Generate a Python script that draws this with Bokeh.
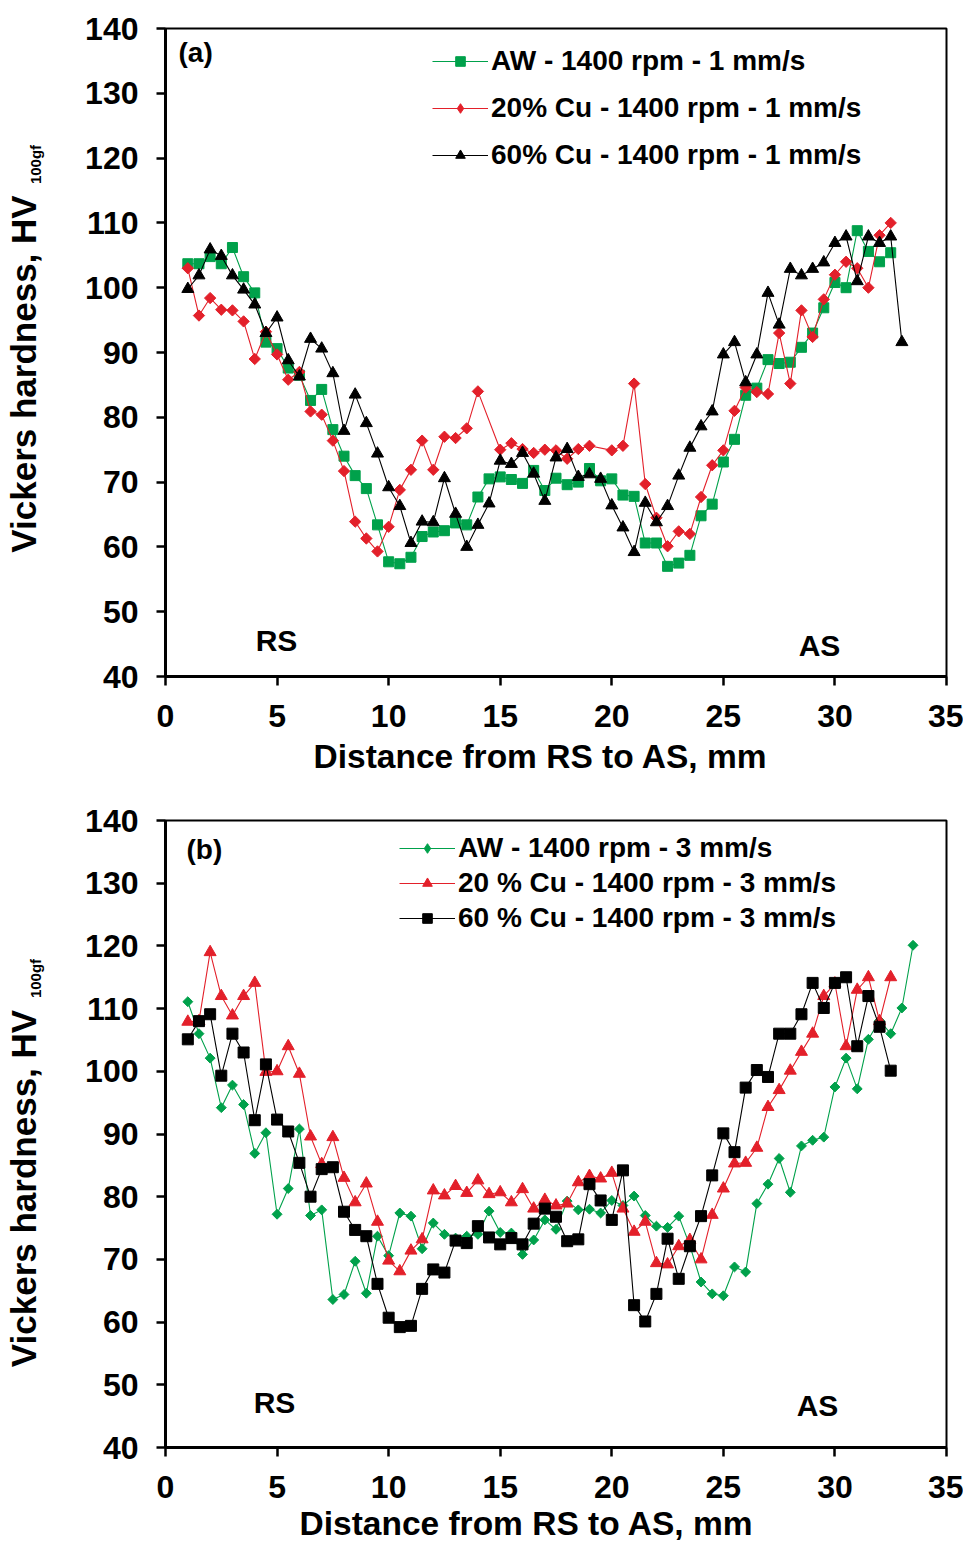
import math
from bokeh.plotting import figure
from bokeh.models import Range1d, Label, Legend, LegendItem, FixedTicker, Title
from bokeh.layouts import column, row
from bokeh.embed import file_html
from bokeh.resources import INLINE

FONT = "Liberation Sans"
GREEN = "#00A14B"
RED = "#E3202A"
BLACK = "#000000"

X_TICKS = [0, 5, 10, 15, 20, 25, 30, 35]
Y_TICKS = [40, 50, 60, 70, 80, 90, 100, 110, 120, 130, 140]
X_TITLE = "Distance from RS to AS, mm"
Y_TITLE = "Vickers hardness, HV"
Y_SUB = "100gf"

# ---------------- panel (a) ----------------
a_labels = ["AW - 1400 rpm - 1 mm/s", "20% Cu - 1400 rpm - 1 mm/s", "60% Cu - 1400 rpm - 1 mm/s"]

a_x_aw = [1, 1.5, 2, 2.5, 3, 3.5, 4, 4.5, 5, 5.5, 6, 6.5, 7, 7.5, 8, 8.5, 9, 9.5, 10, 10.5,
          11, 11.5, 12, 12.5, 13, 13.5, 14, 14.5, 15, 15.5, 16, 16.5, 17, 17.5, 18, 18.5, 19, 19.5, 20, 20.5,
          21, 21.5, 22, 22.5, 23, 23.5, 24, 24.5, 25, 25.5, 26, 26.5, 27, 27.5, 28, 28.5, 29, 29.5, 30, 30.5,
          31, 31.5, 32, 32.5]
a_y_aw = [103.7, 103.7, 104.8, 103.7, 106.2, 101.7, 99.2, 91.6, 90.6, 87.6,
          86.5, 82.6, 84.3, 78.1, 74.0, 71.0, 69.0, 63.4, 57.7, 57.4,
          58.4, 61.6, 62.3, 62.5, 63.7, 63.4, 67.7, 70.5, 70.8, 70.4,
          69.8, 71.8, 68.7, 70.6, 69.6, 70.0, 72.1, 70.2, 70.5, 68.0,
          67.8, 60.6, 60.6, 57.0, 57.5, 58.7, 64.8, 66.6, 73.1, 76.6,
          83.4, 84.5, 88.9, 88.3, 88.5, 90.8, 93.0, 96.9, 100.8, 100.0,
          108.8, 105.6, 104.0, 105.4]

a_x_cu20 = [1, 1.5, 2, 2.5, 3, 3.5, 4, 4.5, 5, 5.5, 6, 6.5, 7, 7.5, 8, 8.5, 9, 9.5, 10, 10.5,
            11, 11.5, 12, 12.5, 13, 13.5, 14, 15, 15.5, 16, 16.5, 17, 17.5, 18, 18.5, 19,
            20, 20.5, 21, 21.5, 22, 22.5, 23, 23.5, 24, 24.5, 25, 25.5, 26, 26.5, 27, 27.5,
            28, 28.5, 29, 29.5, 30, 30.5, 31, 31.5, 32, 32.5]
a_y_cu20 = [103.0, 95.7, 98.4, 96.6, 96.5, 94.8, 89.0, 93.2, 89.7, 85.8,
            87.0, 80.9, 80.4, 76.4, 71.7, 63.9, 61.3, 59.3, 63.1, 68.8,
            71.9, 76.4, 71.9, 77.0, 76.8, 78.3, 84.0,
            75.0, 76.0, 75.1, 74.5, 75.0, 74.9, 73.6, 75.1, 75.6,
            74.9, 75.6, 85.2, 69.7, 64.5, 60.1, 62.4, 62.0, 67.7, 72.6, 74.9, 81.0, 84.6, 83.9,
            83.6, 93.0, 85.2, 96.5, 92.4, 98.2, 102.0, 104.0, 103.0, 100.0, 108.1, 110.0]

a_x_cu60 = [1, 1.5, 2, 2.5, 3, 3.5, 4, 4.5, 5, 5.5, 6, 6.5, 7, 7.5, 8, 8.5, 9, 9.5, 10, 10.5,
            11, 11.5, 12, 12.5, 13, 13.5, 14, 14.5, 15, 15.5, 16, 16.5, 17, 17.5, 18, 18.5, 19, 19.5, 20, 20.5,
            21, 21.5, 22, 22.5, 23, 23.5, 24, 24.5, 25, 25.5, 26, 26.5, 27, 27.5, 28, 28.5, 29, 29.5, 30, 30.5,
            31, 31.5, 32, 32.5, 33]
a_y_cu60 = [99.8, 101.9, 105.9, 104.9, 101.9, 99.7, 97.4, 93.0, 95.4, 88.8,
            86.3, 92.1, 90.6, 86.8, 77.9, 83.5, 79.1, 74.4, 69.2, 66.3,
            60.6, 63.9, 63.8, 70.6, 65.1, 60.0, 63.4, 66.7, 73.3, 72.8,
            74.5, 71.3, 67.1, 73.8, 75.1, 70.8, 71.2, 70.5, 66.4, 63.0,
            59.2, 66.8, 63.8, 66.3, 71.0, 75.3, 78.6, 80.9, 89.7, 91.6,
            85.4, 89.7, 99.2, 94.3, 102.9, 101.9, 102.9, 103.9, 106.9, 107.9,
            101.0, 107.9, 106.9, 107.9, 91.6]

# ---------------- panel (b) ----------------
b_labels = ["AW - 1400 rpm - 3 mm/s", "20 % Cu - 1400 rpm - 3 mm/s", "60 % Cu - 1400 rpm - 3 mm/s"]

b_x_aw = [1, 1.5, 2, 2.5, 3, 3.5, 4, 4.5, 5, 5.5, 6, 6.5, 7, 7.5, 8, 8.5, 9, 9.5, 10, 10.5,
          11, 11.5, 12, 12.5, 13, 13.5, 14, 14.5, 15, 15.5, 16, 16.5, 17, 17.5, 18, 18.5, 19, 19.5, 20, 20.5,
          21, 21.5, 22, 22.5, 23, 23.5, 24, 24.5, 25, 25.5, 26, 26.5, 27, 27.5, 28, 28.5, 29, 29.5, 30, 30.5,
          31, 31.5, 32, 32.5, 33, 33.5]
b_y_aw = [111.1, 106.0, 102.1, 94.2, 97.8, 94.7, 86.9, 90.2, 77.2, 81.3,
          90.8, 77.0, 77.9, 63.6, 64.4, 69.7, 64.6, 73.7, 70.6, 77.4,
          76.9, 71.7, 75.8, 74.0, 73.4, 73.7, 74.0, 77.7, 74.3, 74.2,
          70.8, 73.1, 76.3, 74.8, 79.3, 77.9, 78.0, 77.4, 79.4, 78.6,
          80.1, 77.0, 75.3, 75.1, 76.9, 72.2, 66.4, 64.5, 64.2, 68.8,
          68.0, 78.9, 82.0, 86.1, 80.7, 88.1, 89.0, 89.5, 97.5, 102.1,
          97.2, 105.1, 108.1, 106.0, 110.1, 120.1]

b_x_cu20 = [1, 1.5, 2, 2.5, 3, 3.5, 4, 4.5, 5, 5.5, 6, 6.5, 7, 7.5, 8, 8.5, 9, 9.5, 10, 10.5,
            11, 11.5, 12, 12.5, 13, 13.5, 14, 14.5, 15, 15.5, 16, 16.5, 17, 17.5, 18, 18.5, 19, 19.5, 20, 20.5,
            21, 21.5, 22, 22.5, 23, 23.5, 24, 24.5, 25, 25.5, 26, 26.5, 27, 27.5, 28, 28.5, 29, 29.5, 30, 30.5,
            31, 31.5, 32, 32.5]
b_y_cu20 = [107.9, 108.0, 119.0, 112.0, 108.9, 112.0, 114.1, 99.9, 100.0, 104.0,
            99.6, 89.6, 85.2, 89.5, 83.0, 79.1, 82.1, 76.0, 69.8, 68.1,
            71.4, 73.2, 81.0, 80.2, 81.7, 80.6, 82.6, 80.4, 80.7, 79.1,
            81.2, 78.1, 79.5, 78.6, 78.9, 82.3, 83.3, 82.9, 83.8, 78.1,
            74.4, 76.0, 69.4, 69.2, 72.1, 73.1, 70.0, 77.1, 81.3, 85.3,
            85.4, 87.8, 94.3, 97.0, 100.1, 103.1, 106.0, 112.0, 114.0, 104.0,
            113.0, 115.0, 108.0, 115.0]

b_x_cu60 = [1, 1.5, 2, 2.5, 3, 3.5, 4, 4.5, 5, 5.5, 6, 6.5, 7, 7.5, 8, 8.5, 9, 9.5, 10, 10.5,
            11, 11.5, 12, 12.5, 13, 13.5, 14, 14.5, 15, 15.5, 16, 16.5, 17, 17.5, 18, 18.5, 19, 19.5, 20, 20.5,
            21, 21.5, 22, 22.5, 23, 23.5, 24, 24.5, 25, 25.5, 26, 26.5, 27, 27.5, 28, 28.5, 29, 29.5, 30, 30.5,
            31, 31.5, 32, 32.5]
b_y_cu60 = [105.1, 108.0, 109.1, 99.3, 106.0, 103.0, 92.2, 101.1, 92.3, 90.4,
            85.4, 80.0, 84.4, 84.7, 77.6, 74.7, 73.7, 66.1, 60.7, 59.2,
            59.4, 65.3, 68.4, 67.9, 73.0, 72.6, 75.3, 73.5, 72.4, 73.4,
            72.4, 75.7, 78.1, 76.8, 72.9, 73.2, 82.0, 79.4, 76.3, 84.2,
            62.7, 60.1, 64.5, 73.3, 66.9, 72.1, 76.9, 83.4, 90.1, 87.1,
            97.4, 100.2, 99.1, 106.0, 106.0, 109.1, 114.1, 110.1, 114.1, 115.0,
            104.0, 112.0, 107.1, 100.1]

STRIP_W = 50
MAIN_W = 913
HA, HB = 790, 754
TOTAL_H = HA + HB


def make_fig(height, left, right, top, bottom, title_offset, title_standoff):
    p = figure(width=MAIN_W, height=height, x_range=Range1d(0, 35), y_range=Range1d(40, 140),
               output_backend="svg", toolbar_location=None,
               min_border_left=left, min_border_right=right,
               min_border_top=top, min_border_bottom=bottom)
    p.xgrid.visible = False
    p.ygrid.visible = False
    p.outline_line_color = "black"
    p.outline_line_width = 2
    p.background_fill_color = "white"
    p.border_fill_color = "white"
    for ax in (p.xaxis[0], p.yaxis[0]):
        ax.axis_line_width = 3
        ax.axis_line_color = "black"
        ax.major_tick_line_width = 2.5
        ax.major_tick_line_color = "black"
        ax.major_tick_in = 0
        ax.major_tick_out = 9
        ax.minor_tick_line_color = None
        ax.major_label_text_font = FONT
        ax.major_label_text_font_style = "bold"
        ax.major_label_text_font_size = "32px"
        ax.major_label_text_color = "black"
    p.xaxis.ticker = FixedTicker(ticks=X_TICKS)
    p.yaxis.ticker = FixedTicker(ticks=Y_TICKS)
    p.xaxis.major_label_standoff = 19
    p.yaxis.major_label_standoff = 18
    p.add_layout(Title(text=X_TITLE, align="left", offset=title_offset, standoff=title_standoff,
                       text_font=FONT, text_font_style="bold", text_font_size="33.5px",
                       text_color="black"), "below")
    return p


def series(p, xs, ys, color, marker, size, angle=0.0, legend_marker=None, legend_size=None):
    r_line = p.line(xs, ys, line_color=color, line_width=1.1)
    r_pts = p.scatter(xs, ys, marker=marker, size=size, angle=angle,
                      fill_color=color, line_color=color)
    if legend_marker is None:
        return [r_line, r_pts]
    # hidden twin of the point series, used only for the legend key (diamond shape)
    r_key = p.scatter(xs, ys, marker=legend_marker, size=legend_size,
                      fill_color=color, line_color=color, visible=False)
    return [r_line, r_key]


def text(p, s, x, y, size, align="center", angle=0.0):
    p.add_layout(Label(x=x, y=y, x_units="screen", y_units="screen", text=s,
                       text_font=FONT, text_font_style="bold", text_font_size=size,
                       text_align=align, text_baseline="middle", angle=angle,
                       text_color="black"))


def legend(p, items, loc, row_h):
    lg = Legend(items=items, location=loc, orientation="vertical",
                label_text_font=FONT, label_text_font_style="bold",
                label_text_font_size="28px", label_text_color="black",
                glyph_width=56, glyph_height=24, label_height=row_h, label_standoff=3,
                spacing=0, padding=0, margin=0, border_line_color=None,
                background_fill_alpha=0, inactive_fill_alpha=0)
    p.add_layout(lg)


# Panel (a): frame left 165, right 950, top 28, bottom 676
pa = make_fig(HA, 165 - STRIP_W, MAIN_W - (165 - STRIP_W) - 785, 28, HA - 28 - 648, 148, 12)
ra1 = series(pa, a_x_aw, a_y_aw, GREEN, "square", 10)
ra2 = series(pa, a_x_cu20, a_y_cu20, RED, "square", 8, math.pi / 4, "diamond", 12)
ra3 = series(pa, a_x_cu60, a_y_cu60, BLACK, "triangle", 12)
legend(pa, [LegendItem(label=a_labels[0], renderers=ra1),
            LegendItem(label=a_labels[1], renderers=ra2),
            LegendItem(label=a_labels[2], renderers=ra3)], (267, 498), 47)
text(pa, "(a)", 13, 624, "28px", align="left")
text(pa, "RS", 111, 36, "30px")
text(pa, "AS", 654, 31, "30px")

# Panel (b): frame left 164, right 946, top 820, bottom 1447
pb = make_fig(HB, 164 - STRIP_W, MAIN_W - (164 - STRIP_W) - 782, 820 - HA, HB - (820 - HA) - 627, 134, 5)
rb1 = series(pb, b_x_aw, b_y_aw, GREEN, "square", 7, math.pi / 4, "diamond", 12)
rb2 = series(pb, b_x_cu20, b_y_cu20, RED, "triangle", 12)
rb3 = series(pb, b_x_cu60, b_y_cu60, BLACK, "square", 11)
legend(pb, [LegendItem(label=b_labels[0], renderers=rb1),
            LegendItem(label=b_labels[1], renderers=rb2),
            LegendItem(label=b_labels[2], renderers=rb3)], (234, 512), 35)
text(pb, "(b)", 21, 598, "28px", align="left")
text(pb, "RS", 109, 45, "30px")
text(pb, "AS", 652, 42, "30px")

# Left strip carrying the rotated y-axis titles (with subscript)
strip = figure(width=STRIP_W, height=TOTAL_H, x_range=Range1d(0, 1), y_range=Range1d(0, 1),
               output_backend="svg", toolbar_location=None, min_border=0,
               x_axis_location=None, y_axis_location=None)
strip.outline_line_color = None
strip.grid.visible = False
strip.background_fill_color = "white"
strip.border_fill_color = "white"
text(strip, Y_TITLE, 23, TOTAL_H - 373.5, "35px", angle=math.pi / 2)
text(strip, Y_SUB, 35, TOTAL_H - 164, "15px", angle=math.pi / 2)
text(strip, Y_TITLE, 23, TOTAL_H - 1188, "35px", angle=math.pi / 2)
text(strip, Y_SUB, 35, TOTAL_H - 978, "15px", angle=math.pi / 2)

layout = row(strip, column(pa, pb, spacing=0), spacing=0)
open("out.html", "w").write(file_html(layout, INLINE))
